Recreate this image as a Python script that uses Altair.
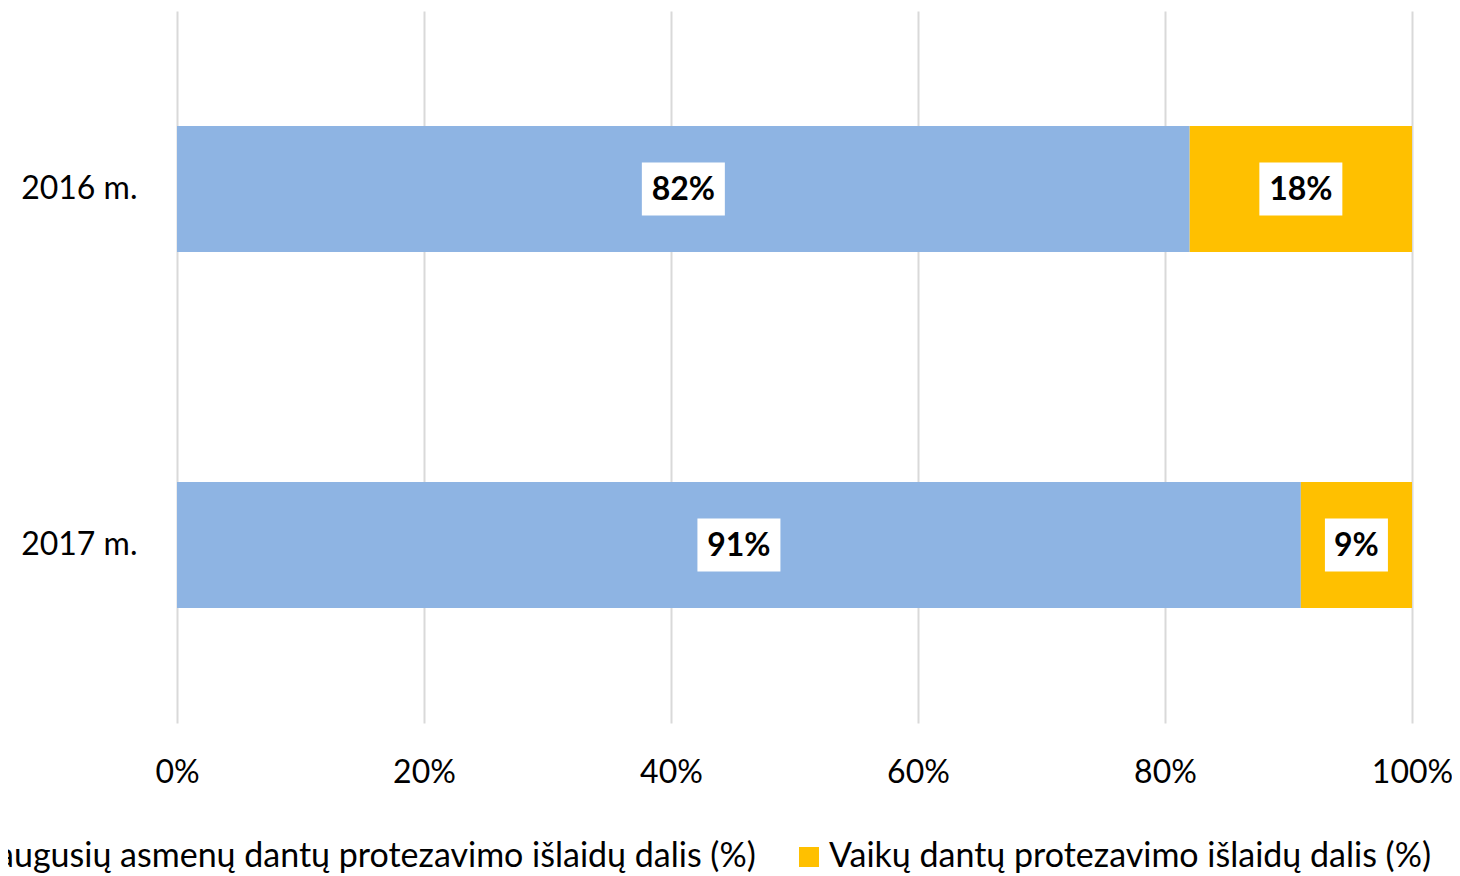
import altair as alt
import pandas as pd

years = ["2016 m.", "2017 m."]
series = [
    "Suaugusių asmenų dantų protezavimo išlaidų dalis (%)",
    "Vaikų dantų protezavimo išlaidų dalis (%)",
]
adult = [82, 91]
child = [18, 9]
colors = ["#8EB4E3", "#FFC000"]
ticks = [0, 20, 40, 60, 80, 100]

rows = []
for i, y in enumerate(years):
    for j, (s, vals) in enumerate(zip(series, [adult, child])):
        rows.append({"year": y, "series": s, "order": j,
                     "value": vals[i], "label": f"{vals[i]}%"})
df = pd.DataFrame(rows)

FONT = "Lato"
FS = 32

base = alt.Chart(df).transform_stack(
    stack="value", groupby=["year"], sort=[alt.SortField("order")], as_=["v0", "v1"]
).transform_calculate(mid="(datum.v0 + datum.v1) / 2", n="length(datum.label)")

yenc = alt.Y("year:N", sort=years, title=None,
             scale=alt.Scale(paddingInner=0.646, paddingOuter=0.323),
             axis=alt.Axis(ticks=False, domain=False, labelFontSize=FS, labelFont=FONT,
                           labelColor="black", labelPadding=40))
xscale = alt.Scale(domain=[0, 100], nice=False)
xaxis = alt.Axis(values=ticks, labelExpr="datum.value + '%'", grid=True, gridColor="#d9d9d9",
                 gridWidth=2, ticks=False, domain=False, labelFontSize=FS, labelFont=FONT,
                 labelColor="black", labelPadding=34, labelFlush=False, labelOverlap=False)

bars = base.mark_bar().encode(
    x=alt.X("v0:Q", scale=xscale, title=None, axis=xaxis),
    x2="v1:Q",
    y=yenc,
    color=alt.Color("series:N", scale=alt.Scale(domain=series, range=colors),
                    legend=alt.Legend(orient="none", legendX=-254, legendY=829,
                                      direction="horizontal", title=None,
                                      symbolType="square", symbolSize=400,
                                      symbolStrokeWidth=0, labelFontSize=34,
                                      labelFont=FONT, labelColor="black",
                                      labelOffset=3, columnPadding=36, padding=0,
                                      labelLimit=3000)),
    order=alt.Order("order:Q"),
)

box3 = base.transform_filter("datum.n == 3").mark_bar(
    color="white", height=53, xOffset=-41.5, x2Offset=41.5
).encode(x=alt.X("mid:Q", scale=xscale), x2="mid:Q", y=yenc)

box2 = base.transform_filter("datum.n == 2").mark_bar(
    color="white", height=53, xOffset=-31.5, x2Offset=31.5
).encode(x=alt.X("mid:Q", scale=xscale), x2="mid:Q", y=yenc)

labels = base.mark_text(font=FONT, fontSize=FS, fontWeight="bold", color="black",
                        baseline="middle", align="center", dy=1).encode(
    x=alt.X("mid:Q", scale=xscale), y=yenc, text="label:N")

chart = alt.layer(bars, box3, box2, labels).properties(
    width=1235, height=712,
    autosize=alt.AutoSizeParams(type="none"),
    padding={"left": 169, "top": 3, "right": 40, "bottom": 153},
).configure_view(stroke=None)

chart.save("out.html", embed_options={"renderer": "svg", "actions": False})
